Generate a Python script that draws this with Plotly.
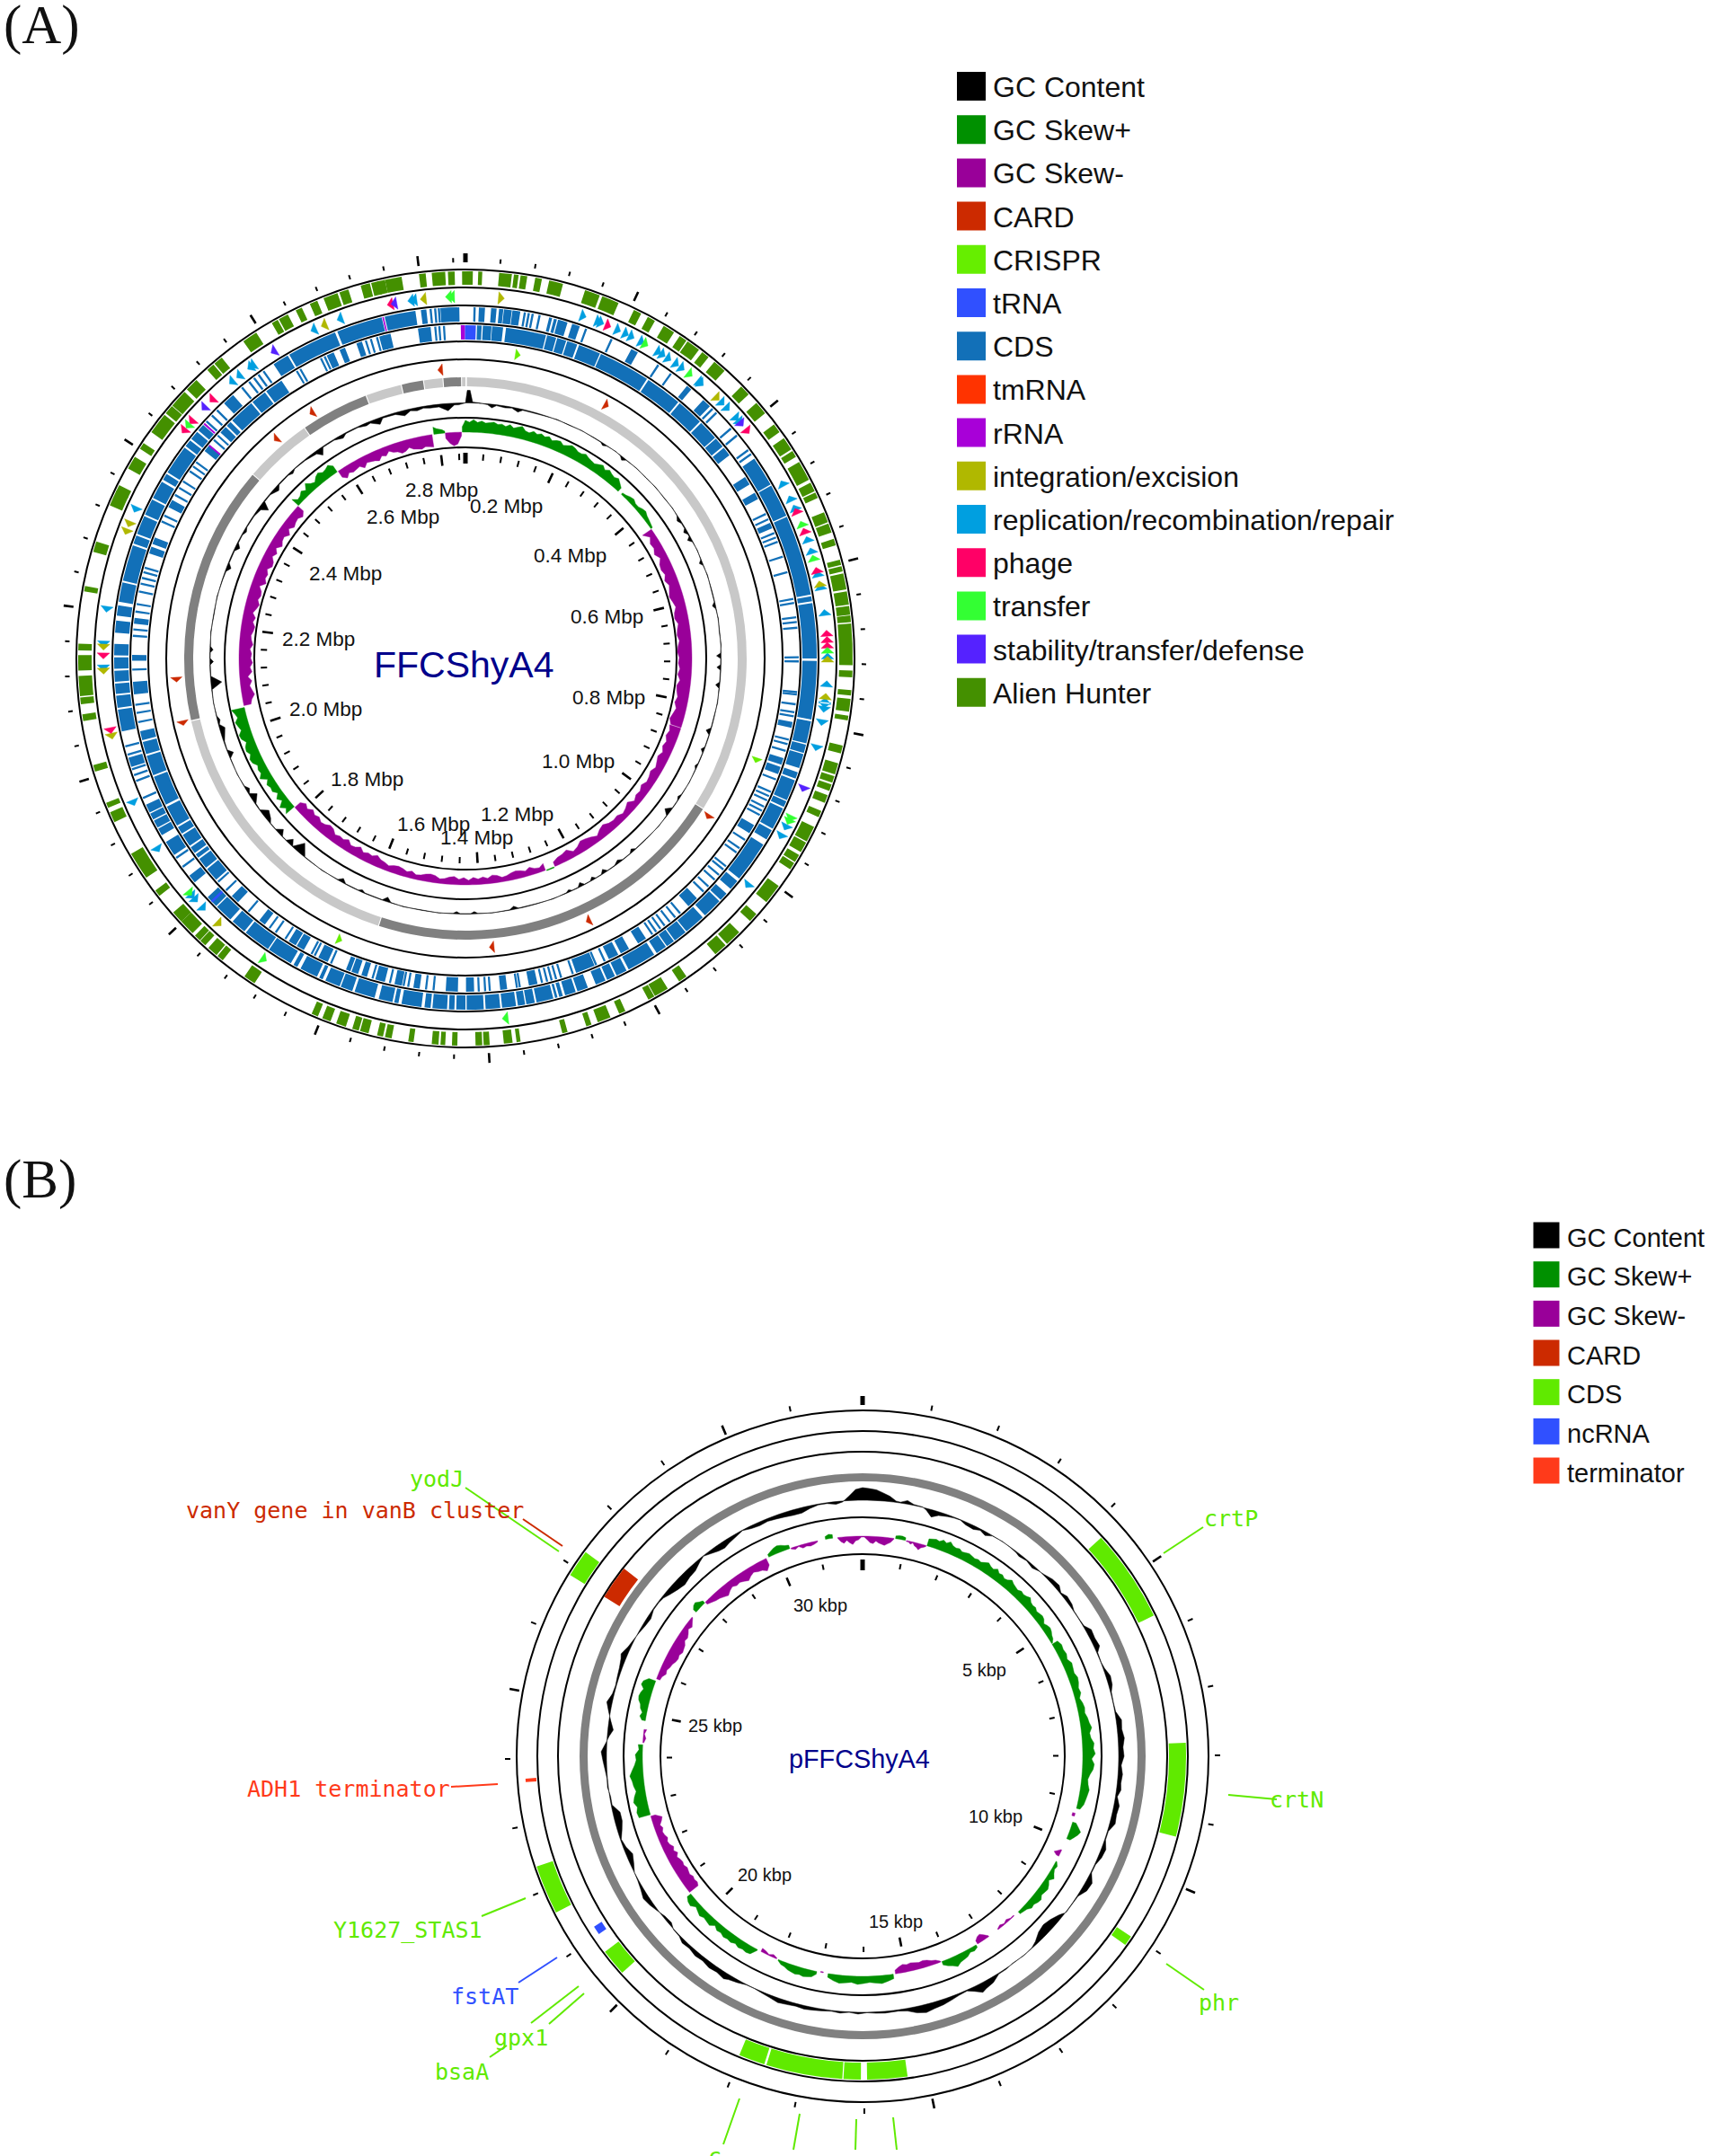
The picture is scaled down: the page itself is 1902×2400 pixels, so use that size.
import numpy as np
import plotly.graph_objects as go

W, H = 1902, 2400
SANS = "Liberation Sans"
SERIF = "Liberation Serif"
MONO = "DejaVu Sans Mono"

# ---------- colours ----------
C_GC = "#000000"; C_POS = "#009000"; C_NEG = "#990099"; C_CARD = "#cc2a00"; C_CRISPR = "#66ee00"
C_TRNA = "#3050ff"; C_CDS = "#1270b8"; C_TMRNA = "#ff3300"; C_RRNA = "#a800d8"; C_INT = "#b0b800"
C_REP = "#009fe0"; C_PHAGE = "#ff0066"; C_TRANSFER = "#33ff33"; C_STAB = "#5522ff"; C_ALIEN = "#449000"
C_BCDS = "#60ea00"; C_TERM = "#ff3a1a"; C_LIGHT = "#c8c8c8"; C_DARK = "#808080"; C_NAVY = "#00008b"

# ---------- legends ----------
LEG_A_NAMES = ["GC Content", "GC Skew+", "GC Skew-", "CARD", "CRISPR", "tRNA", "CDS", "tmRNA", "rRNA",
               "integration/excision", "replication/recombination/repair", "phage", "transfer",
               "stability/transfer/defense", "Alien Hunter"]
LEG_A_COLS = [C_GC, C_POS, C_NEG, C_CARD, C_CRISPR, C_TRNA, C_CDS, C_TMRNA, C_RRNA, C_INT, C_REP,
              C_PHAGE, C_TRANSFER, C_STAB, C_ALIEN]
LEG_B_NAMES = ["GC Content", "GC Skew+", "GC Skew-", "CARD", "CDS", "ncRNA", "terminator"]
LEG_B_COLS = [C_GC, C_POS, C_NEG, C_CARD, C_BCDS, C_TRNA, C_TERM]

# ---------- panel A : ticks (Mbp) ----------
A_LEN = 2.854
A_TICK_STEP = 0.04
A_TICK_LABELS = ["2.8 Mbp", "0.2 Mbp", "0.4 Mbp", "0.6 Mbp", "0.8 Mbp", "1.0 Mbp", "1.2 Mbp", "1.4 Mbp",
                 "1.6 Mbp", "1.8 Mbp", "2.0 Mbp", "2.2 Mbp", "2.4 Mbp", "2.6 Mbp"]

# ---------- panel A : tracks (angle in degrees from the origin) ----------
A_ALIEN = [[359.5,361.1],[1.9,2.5],[5,6.9],[7.2,7.9],[8.2,9.2],[10.4,11.4],[12.5,14.6],[18,20.3],[20.7,23.3],
 [25.8,27],[28.1,29.3],[30.8,32.6],[33.6,34.8],[35,37.1],[37.7,38.9],[40,42],[45.4,47],[48.7,50.7],[52.8,54.2],
 [55.3,57.3],[57.6,58.6],[59.5,62.5],[63,64.4],[64.6,65.5],[67.8,69.4],[69.6,71],[72,73],[75.2,76],[76.2,77],
 [77.3,79.7],[80,82],[82.2,83.5],[83.6,84.6],[84.8,91],[91.8,92.8],[94.7,95.5],[96,97.9],[98.5,99.2],[103,104.2],
 [105.7,107.4],[107.7,108.7],[109,110],[110.7,111.9],[113.2,114.2],[115.8,118.2],[118.4,120],[120.5,121.7],
 [121.9,123],[126,129],[131.3,132.7],[135,137.5],[137.8,139.8],[145.2,146.5],[148.5,150.7],[150.8,151.8],
 [155.6,156.6],[158,160],[161,161.8],[164.7,165.5],[171.8,172.4],[173,174.3],[176.4,177.3],[177.5,178.5],
 [181.2,182],[183,183.7],[184,185],[187.7,188.5],[191,192],[192.3,193.2],[194.5,195.8],[196,197],[198,199.5],
 [200.4,201.7],[202.4,203.4],[213,214.8],[218.8,219.8],[220,221.6],[222.2,223.2],[223.3,224.3],[224.8,227.2],
 [227.2,229],[232.2,233.2],[235.5,239.7],[245,246.6],[247.3,248.1],[253,254],[260.7,261.7],[263.2,264.2],
 [264.4,267.4],[268.2,270.5],[271.2,272.2],[280,280.8],[286,287.6],[293.3,295.7],[295.4,296.6],[299.4,301.4],
 [302.8,303.8],[305.8,309],[309.3,310.7],[310.8,313.5],[314,316],[318.2,319.4],[319.6,321],[325,327.3],
 [330,331],[331.2,332.7],[334,335],[336.3,337.5],[338.5,340.7],[341,342.4],[344.3,345.7],[345.9,347.1],
 [346.8,348],[348,350.5],[353.1,354.1],[355,357],[357.4,358.4]]

MOBILE_REP = [19,21.5,22,24.9,26.3,27.3,29.1,32.2,33,34.1,35.6,36.7,40.3,40.6,45.1,46.3,48.4,49.2,61.1,63.8,65.4,
 70.8,72.7,76.5,78.6,82.7,89.6,94,96.7,97.4,98.1,100.2,104.3,117.8,119.4,128.8,226.4,228.2,229,238.2,246.5,268.5,
 272.3,277.8,294.3,319.8,321.3,323.5,324,335.2,339.7,351.3,351.8]
MOBILE_INT = [5.7,44,78.1,90.1,96,222.9,257.6,268,271.8,290.5,291.8,337,353.3]
MOBILE_PHAGE = [23.2,51.1,66,69.4,75.9,86,87,87.9,258.5,270.4,309,310.9,315.6,348]
MOBILE_TRANSFER = [29.8,38.3,68.2,73.9,88.7,116.2,116.8,173.7,213.8,229.6,310,357.3,357.8]
MOBILE_STAB = [49.6,111.1,313.8,328,348.6]
CRISPR_POS = [9.8,109.3,204.1]
CARD_POS = [29.1,123.1,154.9,174.8,257.1,265.8,319.2,328,355]

A_CONTIG_LIGHT = [[0.3,122.2],[198.1,257.1],[311,325],[339.4,346.7],[351.5,355.3],[359.3,360]]
A_CONTIG_DARK = [[122.4,197.9],[257.3,310.8],[325.2,339.2],[346.9,351.3],[355.5,359.1]]

A_CDS_OUTER = [[2.2,3.2],[4.2,5.1],[5.5,6.2],[6.3,7.6],[7.7,9.0],[13.8,14.3],[14.6,15.1],[15.3,16.9],[17.7,19],
 [28.2,29.4],[39.1,40],[42.6,44.1],
 [55.3,60.3],[60.5,66],[66.2,79.5],[79.8,80.6],[80.9,90],[90.4,100],[100.3,104],[104.2,105.6],[105.8,108.2],
 [108.9,110],[110.3,113.8],[114,115],[115.3,119],[119.3,121],[122,128.8],[129.3,131],[132,133.4],[133.7,137],
 [137.5,141],[141.2,143.4],[143.6,145],[145.2,147],[147.5,152.3],[152.7,154.5],[154.8,156.2],[156.5,158.2],
 [159.6,161.4],[161.7,163.5],[163.9,164.5],[164.8,165.2],[165.5,168.3],[168.6,170],[170.2,171.4],[171.7,174],
 [174.3,176.7],[177,179.8],[180,181.5],[181.8,182.7],[183,185.4],[185.7,186.7],[187.2,190.5],[191,191.7],
 [192,194.3],[195,198.4],[198.8,200.8],[201,203.5],[204,204.6],[205,208],[208.6,209.3],[209.8,214],[214.2,218.7],
 [219,221.5],[222,225],[225.2,227.2],[230.4,231.8],[236,238.5],[239.8,241],[241.2,242.5],[242.7,243.8],[244,245.4],
 [252,253.6],[258,261.6],[261.9,263.9],[264.2,265.9],[266.2,268],[268.3,270.2],[270.5,272.4],[274.2,276.2],
 [277,278.7],[279.3,282.5],[282.8,288.8],[289.1,290.5],[290.8,293.9],[294.2,296.9],[297.2,300.2],[300.6,301.7],
 [302,306.9],[307.2,308.4],[308.7,310.2],[310.5,311.7],[316.6,318.6],[326.9,329.6],[329.9,338.2],[338.6,346.2],
 [346.7,351.8],[352.7,353.6],[355.9,359]]
A_CDS_OUTER_THIN = [1.5,9.75,10.4,11.05,12.2,20.1,24.6,33.3,35.8,44.7,45.6,49.1,50.6,53.6,54.4,233.6,235.4,246.6,
 249.6,250.6,251.6,254.1,255.5,312.5,313.8,315,320.5,322,323,323.9,324.9,354.3,355.05,355.65]
A_CDS_INNER = [[2,2.8],[3,4.5],[4.6,6.5],[7,14],[14.2,15.8],[16,17.6],[17.8,19.6],[20,23.8],[24,33],[33.3,39.7],
 [40,44.7],[45,48.5],[48.7,50.5],[50.8,52.4],[57,58.5],[60.2,61.4],[66,67],[101,102],[107.4,108.6],[109,110.3],
 [120,121.6],[136,138],[147.2,148.8],[150.6,152.2],[152.7,154.5],[157.2,160.6],[167.5,169],[172.8,174],[178.5,179.9],
 [181.3,183.4],[187.9,189],[191,192.3],[194,195.7],[197.2,198.2],[198.8,200],[200.2,201],[204.4,206.2],[209,210.4],
 [210.6,212],[217,218.2],[223,224.5],[228.4,230.8],[231.1,233],[233.3,234],[234.3,235.5],[235.8,238],[238.3,239.6],
 [239.9,243.6],[244,249.2],[249.5,253],[253.3,255.5],[255.8,257.4],[263.8,266],[269.6,270.6],[276,277],[288.4,289.6],
 [290.1,291.3],[297,298.4],[308.5,309.7],[312.7,314],[314.3,315.2],[315.6,320],[320.3,323],[323.3,326.5],[335.4,336.7],
 [337.8,338.8],[340.9,341.9],[345,346],[345.7,347],[351.8,354]]
A_CDS_INNER_THIN = [20.1,64.3,65.3,67.9,68.7,69.5,72.2,75,79.7,80.4,82.9,83.7,84.7,89.8,90.5,95.8,96.2,97.9,99.3,100,
 104.1,104.9,106.1,111.3,113.6,114.4,115.2,116.4,117.2,118,123,124.7,125.6,128.6,129.3,130.5,131.6,133.2,134.4,139.9,
 141,142.2,143.3,144.2,145.1,145.9,155.3,156.9,161.2,163.3,164.2,165,165.8,166.7,170.6,171.1,175.8,176.6,177.7,
 185.5,186.8,189.9,190.7,193.1,196.2,203.8,206.9,207.5,212.7,214.7,216,220.6,225.9,227.9,259,260.6,262,268.1,
 273.9,275,278.1,279.4,281.6,283,284,285,285.8,294.3,295.4,299.4,300.8,302.1,304.2,305.2,306.1,311,312,329.6,330.3,
 334.3,335,342.6,343.5,344.6,354.8,355.5,356.3]
A_TRNA_INNER = [[0,1.8],[359.9,360]]
A_RRNA_INNER = [[359.2,359.9],[309.6,309.9]]
A_TRNA_OUTER = [[226,226.4]]
A_RRNA_OUTER = [[346.3,346.55],[311.8,312.1]]

# GC skew : segment limits and heights read along each segment
A_SKEW_START = [0,43.5,55.2,108,157,159.3,229.1,258,312.5,325.8,352,354.9,359.2]
A_SKEW_END = [42.4,55,107.8,156.7,159,228.9,257.5,312.3,325.5,351.5,354.8,359,360]
A_SKEW_H = [
 [13,11,14,11,13,11,12,13,11,12,10,13,10,12,14,10,9,12,10,12,10,12,9,11,12,9,11,13,12,10,10,12,10,9,8,10,12,9,12,10,9,11,8,5],
 [2,3,5,6,4,4,6,7,5,4,3,2],
 [-12,-6,-10,-9,-12,-8,-12,-13,-11,-14,-11,-13,-15,-13,-11,-14,-15,-12,-14,-15,-13,-15,-16,-14,-15,-13,-15,-12,-15,-14,-12,-14,-11,-13,-15,-12],
 [-13,-11,-13,-10,-12,-9,-12,-10,-8,-11,-9,-8,-11,-8,-9,-6,-11,-8,-6,-9,-8,-9,-12,-10,-6,-9,-11,-12,-8,-6,-11,-9,-8,-5],
 [1,1],
 [-8,-5,-6,-9,-6,-8,-9,-8,-6,-5,-8,-9,-6,-8,-6,-8,-5,-8,-6,-9,-8,-6,-5,-8,-9,-8,-6,-5,-8,-6,-8,-9,-8,-6,-8,-9,-12,-9,-10,-8,-12,-9,-8,-12,-9,-10,-8,-12,-13,-10,-9,-12,-10,-13,-9,-12,-8],
 [12,8,13,6,10,5,9,8,10,6,13,9,10,8,12,13,10,13,12,9,13,14,10,12,14,10,12,15],
 [-8,-10,-14,-12,-10,-13,-9,-14,-12,-15,-13,-14,-12,-15,-13,-12,-14,-15,-12,-14,-10,-13,-15,-12,-14,-13,-9,-15,-12,-13,-10,-14,-13,-9,-12,-8,-13,-10,-9,-13,-8,-12,-10,-9,-12,-8],
 [10,5,6,9,6,12,8,6,10,12,9,10,12,8],
 [-8,-12,-8,-10,-9,-8,-12,-8,-9,-10,-12,-8,-10,-6,-9,-10,-13,-12,-9,-12,-13,-14,-12,-13,-14],
 [8,6,5,4,2],
 [-6,-12,-15,-13,-4],
 [6,13]]

A_GC = [(0,0),(0.4,14),(1,14),(1.6,1),(3,0.5),(5,-1),(6,-4),(7,-1),(9,-2),(10.5,-1),(12,-4),(13,-1),(15,-1),(18,-0.6),
 (21,0.4),(24,-0.4),(27,0.4),(30,-0.4),(32,-0.5),(32.8,-2.5),(33.6,-0.5),(36,0.3),(37.4,-0.5),(38.2,-3.5),(39,-0.5),
 (42,0.4),(45,-0.4),(48,0.4),(51,-0.4),(54,0.4),(56,-0.5),(57,-3.5),(58,-1),(59.3,-1),(60,-4),(60.8,-1),(61.4,-1),
 (62,-4.5),(62.8,-0.5),(65,0.4),(67.2,-0.5),(67.9,-3.5),(68.6,-0.5),(71,0.5),(74,-0.5),(77.2,-0.5),(78,-3.5),(78.8,-0.5),
 (81,0.5),(84,-0.5),(87,0.5),(88.8,-0.5),(89.4,-5),(90,-0.5),(91.4,-0.5),(92,-4.5),(92.6,-0.5),(95.3,-0.5),(96,-4.5),
 (96.7,-0.5),(100,0.5),(103,-0.5),(105.8,-0.5),(106.6,-5),(107.4,-0.5),(110.3,-0.5),(111,-3.5),(111.7,-0.5),(114.3,-0.5),
 (115,-2.5),(115.7,-0.5),(119,0.4),(122.2,-0.5),(123,-2.5),(123.8,-0.5),(125.8,-0.5),(127,-6.5),(128,-0.5),(131,0.4),
 (135,-0.5),(138.2,-0.5),(139,-3.5),(139.8,-0.5),(142,-0.5),(143,-3.5),(144.2,-0.5),(146.2,-0.5),(147,-4.5),(147.8,-0.5),
 (149.3,-0.5),(150,-3.5),(150.7,-0.5),(152.2,-0.5),(153,-4.5),(153.8,-0.5),(155.3,-0.5),(156,-2.5),(156.7,-0.5),(160,0.4),
 (164,-0.5),(168,-0.5),(169,-3.5),(170,-0.5),(174,0.4),(177.2,-0.5),(178,-2.5),(178.8,-0.5),(181.2,-0.5),(182,-2.5),
 (182.8,-0.5),(186,0.4),(190,-0.4),(194,0.4),(197,-0.5),(198,-5),(199,-0.5),(203.2,-0.5),(204,-2.5),(204.8,-0.5),(208,-0.5),
 (209,-4.5),(210,-0.5),(214,0.4),(219,-0.5),(221,-12),(222.6,-0.5),(223.6,-6.5),(224.6,-0.5),(225.8,-0.5),(226.8,-6.5),
 (228,-0.5),(229.8,-0.5),(230.6,-4),(232.3,-8),(233.6,-0.5),(235.3,-1),(237,-8),(238,-1),(239,-4),(240,-0.5),(243,0.4),
 (247,-0.5),(248,-6),(249,-0.5),(251,-1),(254,-6),(255,-1),(256,-3),(257,-0.5),(260,0.3),(263,-0.5),(264.5,-12),(266,-0.5),
 (268.6,-0.5),(269.3,-4),(270,-0.5),(271.3,-0.5),(272,-3.5),(272.7,-0.5),(276,0.5),(280,-0.5),(284,0.5),(288,-0.5),(290,-1),
 (291,-5),(292,-1),(295,-1),(296,-5),(297,-1),(299,-0.8),(300,-3),(301,-0.8),(304,-1),(306,-3),(307,-10),(308,-1),(310,-1),
 (312,-5),(313,-1),(316,-1),(317,-3),(318,-0.5),(321,-1),(324,-3),(325,-8),(326,-1),(329,-1),(331,-4),(332,-1),(335,-1),
 (337,-3),(338,-2),(340,-7),(341,-1.5),(344,-2),(346,-6),(347.5,-2),(349,-3.5),(350.5,-2),(352,-3),(354,-3),(356,-8),(357.5,-2),
 (358.5,-2),(360,0)]

# ---------- panel B ----------
B_LEN = 32.05
B_TICK_STEP = 1
B_TICK_LABELS = ["30 kbp", "5 kbp", "25 kbp", "10 kbp", "20 kbp", "15 kbp"]
B_RING3_CDS = [[301.8,306.4],[243,251.3]]
B_RING2_CDS = [[47.5,64.2],[87.6,104.4],[123.9,125.7],[172,179.2],[180.3,183.4],[183.6,197.3],[197.7,202.4],[228,232.8]]
B_NCRNA = [[236,237.6]]
B_TERMINATOR = [[265.6,266.2]]
B_CARD = [[301.7,308.2]]

B_SKEW_START = [353.5,8.6,11.5,17,59.4,105,107.4,115.2,118.5,136.5,145,149,159.2,172,190.3,192,203,208.5,231.8,254.6,273.5,279.3,290.6,310.9,314.4,334.8,341,350.3]
B_SKEW_END = [368.2,11.2,16.8,59.2,103.7,105.8,112,117,135,142,148.5,158.9,171.4,189,191,202.5,207.5,231.3,254.2,273,277,290,309.2,314.2,334,340.7,348.2,352.2]
B_SKEW_H = [
 [-1,-5,-7,-4,-7,-9,-5,-4,-1,-1,-4,-7,-8,-5,-7,-8,-9,-7,-5,-1],
 [3,4,4,3],
 [-1,-1,-3,-1,-4,-5,-7,-4,-3,-1],
 [8,9,10,9,12,10,13,10,9,10,8,9,10,9,8,9,8,10,12,10,9,12,9,10,8,9,12,10,9,8,10,9,10,12,9,8,9,7,8,9,8,5,7,8,7,5,4,1],
 [7,9,8,9,7,10,9,8,10,9,7,8,5,7,8,7,9,10,12,9,10,13,12,14,10,13,12,9,7,8,10,9,8,7,4],
 [-3,-3],
 [4,8,12,10,7,4],
 [-1,-4,-7,-3],
 [1,4,3,5,8,4,7,9,8,7,10,9,7,8,5,4,3],
 [-1,-1,-3,-1,-3,-1],
 [-1,-5,-8,-7,-4],
 [3,5,4,7,8,9,12,9,7,4],
 [-1,-4,-5,-7,-8,-7,-8,-9,-8,-9,-7,-4],
 [5,7,9,8,7,8,9,7,8,9,7,4],
 [-1,-1],
 [3,7,8,9,8,9,8,7,5,4,1],
 [-1,-3,-1,-3,-4],
 [1,8,9,8,9,7,9,8,9,7,8,5,9,8,7,9,7,5,9,8,5],
 [-12,-14,-13,-14,-12,-13,-14,-12,-13,-12,-10,-13,-10,-12,-9,-8,-10,-8,-7,-9,-7,-10,-12,-5],
 [13,14,12,15,13,10,12,13,15,12,9,7,8,4,5],
 [-1,-3,-1,-3],
 [4,7,5,8,9,12,13,12,10,14,13,8],
 [-4,-5,-8,-7,-9,-10,-12,-13,-12,-14,-13,-12,-9,-10,-8,-5,-7,-4,-1],
 [4,7,8,5,3],
 [-3,-5,-7,-8,-10,-12,-9,-7,-9,-8,-10,-12,-9,-7,-9,-10,-13,-8],
 [3,5,7,8,7,5,4],
 [-1,-3,-1,-4,-3,-4,-3,-1],
 [3,5,4]]

B_GC = [(0,14),(1.5,13),(3,12),(4.5,9),(6,6),(7.5,1.5),(8.5,1),(10,4),(11.5,1),(13.5,0.5),(14.5,-2),(16,-8),(17.5,-4),(19.5,-2),
 (21,-1),(22.5,-0.5),(24,-3),(26,-4),(27.5,-1.5),(29,-4),(30.5,-0.5),(33,0.3),(35,-0.3),(37,-1.2),(38,-2.5),(40,-1),(42,-3),
 (43.5,-0.5),(45,1),(47,4),(49,5),(50.5,1),(52,4),(54,3),(55.5,0.5),(58,0.5),(59.5,1),(61,6),(63,5),(65,6),(66.2,1),(68.5,0.4),
 (70,1.5),(72,5),(74,4),(75.5,1),(78,0.5),(80,1),(82,6),(84,5),(86,7),(88,5),(90,6),(92,3),(94,5),(96,4),(97.5,5),(99,2),(101,6),
 (103,5),(105,6),(107,1),(109,1),(111,5),(113,4),(115,1),(117,1),(119,7),(121,6),(123,1),(125,0.5),(127.5,0.5),(129,-4),(131,-8),
 (133,-10),(135,-8),(137,-3),(138.5,-0.5),(141,0.4),(144,-0.5),(146,1),(148,1),(150,6),(152,8),(153,10),(154.5,5),(156,1),(158,2),
 (160,4),(162,6),(164,7),(166,9),(168,7),(170,3),(172,1.5),(175,2),(177,1.5),(179,0.5),(181,2),(183,0.5),(185,2),(187,1),(189,2),
 (191,3),(193,4),(195,3),(197,4),(199,5),(201,3),(203,1.5),(205,0.3),(207,0.5),(209,3),(211,5),(212,7),(214,5),(216,6),(218,4),
 (220,5),(222,3),(224,4),(225.5,1),(227.5,0.5),(229,-3),(231,-2),(233,1),(235,4),(237,6),(239,3),(241,1),(243,0),(245,-4),(247,-7),
 (249,-3),(251,-1),(253,-5),(255,-8),(257,-8),(259,-1),(261,-1),(263,1),(265,0.5),(267,2),(269,4),(271,6),(273,1),(274.5,-2),(276,-6),
 (278,-2),(280,2),(282,6),(284,2),(286,1),(288,2),(290,3),(292,5),(293,7),(295,3),(297,1),(299,-1),(301,-3),(303,-4),(305,-1),(307,-1),
 (308.5,-2),(310,-5),(312,-8),(314,-10),(316,-8),(318,-7),(320,-3),(321.5,-0.5),(323,-3),(325,-6),(326.5,-7),(328,-5),(330,-3),(332,-0.5),
 (334,-3),(336,-4),(338,-3),(340,-4),(342,-5),(344,-6),(346,-6),(348,-3),(350,-1),(352,-1),(354,-3),(355.5,-1),(357,5),(358.5,12),(360,14)]

B_LABELS = [
 ("yodJ", 486, 1646, C_BCDS), ("vanY gene in vanB cluster", 395, 1681, C_CARD), ("crtP", 1370, 1690, C_BCDS),
 ("crtN", 1443, 2003, C_BCDS), ("phr", 1356, 2229, C_BCDS), ("ADH1 terminator", 388, 1991, C_TERM),
 ("Y1627_STAS1", 454, 2148, C_BCDS), ("fstAT", 539, 2222, C_TRNA), ("gpx1", 580, 2268, C_BCDS),
 ("bsaA", 514, 2306, C_BCDS)]
B_CUT_LABEL = ("c", 795, 2384, C_BCDS)
B_LEADERS = [
 (518,1656,622,1727,C_BCDS),(582,1691,626,1721,C_CARD),(1295,1729,1339,1700,C_BCDS),(1367,1998,1421,2003,C_BCDS),
 (1298,2186,1340,2215,C_BCDS),(502,1989,554,1986,C_TERM),(536,2133,585,2113,C_BCDS),(577,2207,620,2179,C_TRNA),
 (591,2252,644,2211,C_BCDS),(545,2290,564,2277,C_BCDS),(611,2253,650,2219,C_BCDS),(823,2336,805,2387,C_BCDS),
 (890,2353,883,2393,C_BCDS),(953,2359,952,2393,C_BCDS),(994,2357,998,2393,C_BCDS)]
A_LABEL_XY = [(491,545),(563,563),(634,618),(675,686),(677,776),(643,847),(575,906),(530,932),(482,917),(408,867),(362,789),(354,711),(384,638),(448,575)]
B_LABEL_XY = [(913,1787),(1095,1859),(796,1921),(1108,2022),(851,2087),(997,2139)]

# ---------- layout geometry (pixels) ----------
A_C = (518, 733); A_S = 470
B_C = (960, 1955); B_S = 445
A_RINGS = [235, 268, 333, 353, 373, 393, 413, 433]
B_RINGS = [225, 266, 339, 362, 385]


def dom(c, s):
    return dict(x=[(c[0]-s)/W, (c[0]+s)/W], y=[1-(c[1]+s)/H, 1-(c[1]-s)/H])


def bars(pairs, r0, r1, color, name, sub):
    p = np.array(pairs, float)
    return go.Barpolar(theta=(p[:, 0]+p[:, 1])/2, width=p[:, 1]-p[:, 0], base=[r0]*len(p), r=[r1-r0]*len(p),
                       marker=dict(color=color, line=dict(width=0)), name=name, subplot=sub,
                       showlegend=False, hoverinfo="skip")


def thin(centers, w=0.36):
    return [[c-w/2, c+w/2] for c in centers]


def ticks(vals, r0, r1, width, sub, name):
    rr, tt = [], []
    for v in vals:
        rr += [r0, r1, None]
        tt += [v, v, None]
    return go.Scatterpolar(r=rr, theta=tt, mode="lines", line=dict(color="black", width=width), subplot=sub,
                           name=name, showlegend=False, hoverinfo="skip")


def skew(starts, ends, hs, base, sign, color, name, sub):
    rr, tt = [], []
    for s, e, h in zip(starts, ends, hs):
        if (h[0] > 0) != (sign > 0):
            continue
        th = np.linspace(s, e, len(h))
        n_back = max(2, int(abs(e-s))+2)
        back = np.linspace(e, s, n_back)
        rr += [base] + [base+v for v in h] + [base]*n_back + [None]
        tt += [s] + list(th) + list(back) + [None]
    return go.Scatterpolar(r=rr, theta=tt, mode="lines", fill="toself", fillcolor=color,
                           line=dict(color=color, width=0.4), subplot=sub, name=name,
                           showlegend=False, hoverinfo="skip")


def gc(prof, base, sub):
    th = [p[0] for p in prof]
    rr = [base+p[1] for p in prof]
    back = list(np.arange(360, -0.5, -1.0))
    return go.Scatterpolar(r=rr+[base]*len(back), theta=th+back, mode="lines", fill="toself", fillcolor="black",
                           line=dict(color="black", width=0.5), subplot=sub, name="GC Content",
                           showlegend=False, hoverinfo="skip")


def arrows(pos, r0, r1, color, name, sub, length=0.95):
    rr, tt = [], []
    for p in pos:
        d = -1 if (p > 180 or 60 < p < 97) else 1
        rr += [r0, r1, (r0+r1)/2, r0, None]
        tt += [p-d*length/2, p-d*length/2, p+d*length/2, p-d*length/2, None]
    return go.Scatterpolar(r=rr, theta=tt, mode="lines", fill="toself", fillcolor=color,
                           line=dict(color=color, width=0.4), subplot=sub, name=name,
                           showlegend=False, hoverinfo="skip")


fig = go.Figure()

# legends as swatches on a page-sized cartesian layer
ann = []
for i, (n, c) in enumerate(zip(LEG_A_NAMES, LEG_A_COLS)):
    y = 96 + i*48.2
    fig.add_trace(go.Scatter(x=[1081], y=[y], mode="markers", name=n, showlegend=False, hoverinfo="skip",
                             marker=dict(symbol="square", size=32, color=c, line=dict(width=0))))
    ann.append(dict(x=1103, y=y+1, text=n, xanchor="left", yanchor="middle", showarrow=False,
                    font=dict(family=SANS, size=32, color="#111111")))
for i, (n, c) in enumerate(zip(LEG_B_NAMES, LEG_B_COLS)):
    y = 1375 + i*43.67
    fig.add_trace(go.Scatter(x=[1721], y=[y], mode="markers", name=n, showlegend=False, hoverinfo="skip",
                             marker=dict(symbol="square", size=29, color=c, line=dict(width=0))))
    ann.append(dict(x=1741.5, y=y+2.5, text=n, xanchor="left", yanchor="middle", showarrow=False,
                    font=dict(family=SANS, size=29, color="#111111")))

# panel A tracks
sa = "polar"
for t in [
    bars(A_ALIEN, 416, 431, C_ALIEN, "Alien Hunter", sa),
    bars(A_CDS_OUTER + thin(A_CDS_OUTER_THIN), 375, 391, C_CDS, "CDS +", sa),
    bars(A_CDS_INNER + thin(A_CDS_INNER_THIN), 355, 371, C_CDS, "CDS -", sa),
    bars(A_TRNA_INNER, 355, 371, C_TRNA, "tRNA", sa),
    bars(A_RRNA_INNER, 355, 371, C_RRNA, "rRNA", sa),
    bars(A_TRNA_OUTER, 375, 391, C_TRNA, "tRNA +", sa),
    bars(A_RRNA_OUTER, 375, 391, C_RRNA, "rRNA +", sa),
    bars(A_CONTIG_LIGHT, 303, 313, C_LIGHT, "contig light", sa),
    bars(A_CONTIG_DARK, 303, 313, C_DARK, "contig dark", sa),
    arrows(MOBILE_REP, 396, 410, C_REP, "replication/recombination/repair", sa),
    arrows(MOBILE_INT, 396, 410, C_INT, "integration/excision", sa),
    arrows(MOBILE_PHAGE, 396, 410, C_PHAGE, "phage", sa),
    arrows(MOBILE_TRANSFER, 396, 410, C_TRANSFER, "transfer", sa),
    arrows(MOBILE_STAB, 396, 410, C_STAB, "stability/transfer/defense", sa),
    arrows(CRISPR_POS, 337, 349, C_CRISPR, "CRISPR", sa),
    arrows(CARD_POS, 316, 329, C_CARD, "CARD", sa),
    skew(A_SKEW_START, A_SKEW_END, A_SKEW_H, 252, 1, C_POS, "GC Skew+", sa),
    skew(A_SKEW_START, A_SKEW_END, A_SKEW_H, 252, -1, C_NEG, "GC Skew-", sa),
    gc(A_GC, 284.5, sa),
]:
    fig.add_trace(t)
a_t = [i*A_TICK_STEP/A_LEN*360 for i in range(int(A_LEN/A_TICK_STEP)+1)]
a_major = a_t[5::5]
a_minor = [v for i, v in enumerate(a_t) if i % 5]
for t in [ticks(a_minor, 441, 446, 2, sa, "outer minor"), ticks(a_major, 440, 451, 2.6, sa, "outer major"),
          ticks([0], 441, 451, 5, sa, "outer zero"), ticks(a_minor, 221, 228, 2, sa, "inner minor"),
          ticks(a_major, 216, 228, 2.6, sa, "inner major"), ticks([0], 217, 229, 5, sa, "inner zero")]:
    fig.add_trace(t)

# panel B tracks
sb = "polar2"
for t in [
    bars(B_RING3_CDS, 364, 383, C_BCDS, "CDS outer", sb),
    bars(B_TERMINATOR, 364, 376, C_TERM, "terminator", sb),
    bars(B_RING2_CDS, 341, 360, C_BCDS, "CDS", sb),
    bars(B_NCRNA, 344, 354, C_TRNA, "ncRNA", sb),
    bars(B_CARD, 318, 338, C_CARD, "CARD", sb),
    bars([[0, 180], [180, 360]], 306, 315, C_DARK, "contig", sb),
    skew(B_SKEW_START, B_SKEW_END, B_SKEW_H, 245, 1, C_POS, "GC Skew+", sb),
    skew(B_SKEW_START, B_SKEW_END, B_SKEW_H, 245, -1, C_NEG, "GC Skew-", sb),
    gc(B_GC, 285, sb),
]:
    fig.add_trace(t)
b_t = [i*B_TICK_STEP/B_LEN*360 for i in range(int(B_LEN))]
b_major = b_t[5::5]
b_minor = [v for i, v in enumerate(b_t) if i % 5]
for t in [ticks(b_minor, 392, 398, 2, sb, "outer minor"), ticks(b_major, 389, 400, 2.6, sb, "outer major"),
          ticks([0], 391, 401, 5, sb, "outer zero"), ticks(b_minor, 212, 218, 2, sb, "inner minor"),
          ticks(b_major, 206, 216, 2.6, sb, "inner major"), ticks([0], 207, 219, 5, sb, "inner zero")]:
    fig.add_trace(t)

# text
for (x, y), s in zip(A_LABEL_XY, A_TICK_LABELS):
    ann.append(dict(x=x, y=y, text=s, showarrow=False, font=dict(family=SANS, size=22.5, color="#111111")))
for (x, y), s in zip(B_LABEL_XY, B_TICK_LABELS):
    ann.append(dict(x=x, y=y, text=s, showarrow=False, font=dict(family=SANS, size=20, color="#111111")))
ann.append(dict(x=516, y=740, text="FFCShyA4", showarrow=False, font=dict(family=SANS, size=41, color=C_NAVY)))
ann.append(dict(x=956, y=1958, text="pFFCShyA4", showarrow=False, font=dict(family=SANS, size=28.8, color=C_NAVY)))
ann.append(dict(x=2, y=28, text="(A)", xanchor="left", showarrow=False, font=dict(family=SERIF, size=61, color="#111111")))
ann.append(dict(x=2, y=1313, text="(B)", xanchor="left", showarrow=False, font=dict(family=SERIF, size=61, color="#111111")))
for s, x, y, c in B_LABELS:
    ann.append(dict(x=x, y=y, text=s, showarrow=False, font=dict(family=MONO, size=25, color=c)))
s, x, y, c = B_CUT_LABEL
ann.append(dict(x=x, y=y, text=s, yanchor="top", showarrow=False, font=dict(family=MONO, size=25, color=c)))

shapes = [dict(type="line", xref="x", yref="y", x0=a, y0=b, x1=c, y1=d, line=dict(color=col, width=2))
          for a, b, c, d, col in B_LEADERS]


def polar(c, s, rings):
    return dict(domain=dom(c, s), bgcolor="rgba(0,0,0,0)", barmode="overlay",
                radialaxis=dict(range=[0, s], tickvals=rings, showticklabels=False, ticks="", showline=False,
                                showgrid=True, gridcolor="black", gridwidth=2),
                angularaxis=dict(rotation=90, direction="clockwise", thetaunit="degrees", showgrid=False,
                                 showline=False, ticks="", showticklabels=False))


fig.update_layout(
    width=W, height=H, autosize=False, margin=dict(l=0, r=0, t=0, b=0), paper_bgcolor="white", plot_bgcolor="white",
    showlegend=False,
    xaxis=dict(range=[0, W], visible=False, fixedrange=True),
    yaxis=dict(range=[H, 0], visible=False, fixedrange=True),
    polar=polar(A_C, A_S, A_RINGS), polar2=polar(B_C, B_S, B_RINGS),
    annotations=ann, shapes=shapes,
)
fig.write_html("out.html", config={"displayModeBar": False}, post_script="document.body.style.margin='0';")
